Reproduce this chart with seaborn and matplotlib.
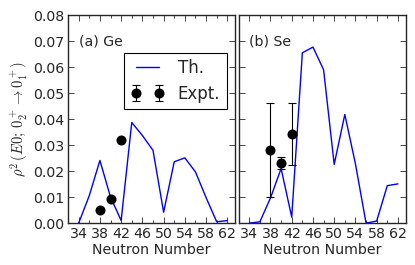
import numpy as np
import pandas as pd
import seaborn as sns
import matplotlib
matplotlib.use('Agg')
import matplotlib.pyplot as plt
from matplotlib.ticker import MultipleLocator

# theory curves
neutrons = [34, 36, 38, 40, 42, 44, 46, 48, 50, 52, 54, 56, 58, 60, 62]
ge_th = [0.0, 0.0106, 0.0241, 0.0100, 0.0010, 0.0387, 0.0337, 0.0280, 0.0042,
         0.0236, 0.0251, 0.0197, 0.0098, 0.0005, 0.0010]
se_th = [0.0, 0.0005, 0.0097, 0.0210, 0.0023, 0.0655, 0.0677, 0.0590, 0.0226,
         0.0418, 0.0228, 0.0, 0.0008, 0.0144, 0.0151]

# experiment
expt_n = [38, 40, 42]
ge_expt = [0.0051, 0.0091, 0.0320]
ge_err = [0.0003, 0.0003, 0.0003]
se_expt = [0.0281, 0.0232, 0.0341]
se_err_lo = [0.0181, 0.0023, 0.0119]
se_err_hi = [0.0181, 0.0022, 0.0121]

sns.set_style('ticks')
plt.rcParams['font.family'] = ['DejaVu Sans']
plt.rcParams['font.size'] = 10.2
plt.rcParams['mathtext.fontset'] = 'cm'
plt.rcParams['xtick.direction'] = 'in'
plt.rcParams['ytick.direction'] = 'in'
plt.rcParams['xtick.top'] = True
plt.rcParams['ytick.right'] = True

fig, axes = plt.subplots(1, 2, figsize=(4.15, 2.65), dpi=100, sharey=True)
plt.subplots_adjust(left=0.164, right=0.978, bottom=0.158, top=0.943, wspace=0.02)

panels = [
    (axes[0], ge_th, ge_expt, [ge_err, ge_err], '(a) Ge'),
    (axes[1], se_th, se_expt, [se_err_lo, se_err_hi], '(b) Se'),
]
for ax, th, ex, err, name in panels:
    df = pd.DataFrame({'N': neutrons, 'rho2': th})
    sns.lineplot(data=df, x='N', y='rho2', ax=ax, color='#0000ff', lw=1.0, label='Th.')
    ax.errorbar(expt_n, ex, yerr=err, fmt='o', color='black', ms=6.2,
                elinewidth=0.8, capsize=2.7, capthick=0.8, label='Expt.')
    ax.text(34, 0.07, name, va='center', fontsize=10.2)
    ax.set_xlim(32, 63.5)
    ax.set_ylim(0, 0.08)
    ax.xaxis.set_minor_locator(MultipleLocator(2))
    ax.set_xticks(np.arange(34, 63, 4))
    ax.yaxis.set_major_locator(MultipleLocator(0.01))
    ax.tick_params(which='major', length=4, width=0.6, pad=3)
    ax.tick_params(which='minor', length=2.5, width=0.6, top=True)
    for s in ax.spines.values():
        s.set_linewidth(1.0)
    ax.set_xlabel('Neutron Number', labelpad=1)
    ax.set_ylabel('')
    if ax.legend_ is not None:
        ax.legend_.remove()

axes[0].set_ylabel(r'$\rho^2\,(E0;\,0_2^+\rightarrow 0_1^+)$', fontsize=10.5, labelpad=2)
leg = axes[0].legend(loc='upper right', bbox_to_anchor=(0.95, 0.82), numpoints=2,
                     fancybox=False, edgecolor='black', framealpha=1, fontsize=12,
                     borderpad=0.4, handlelength=2.0, labelspacing=0.45,
                     borderaxespad=0)
leg.get_frame().set_linewidth(0.8)
axes[1].tick_params(labelleft=False)

fig.savefig('out.png', dpi=100)
